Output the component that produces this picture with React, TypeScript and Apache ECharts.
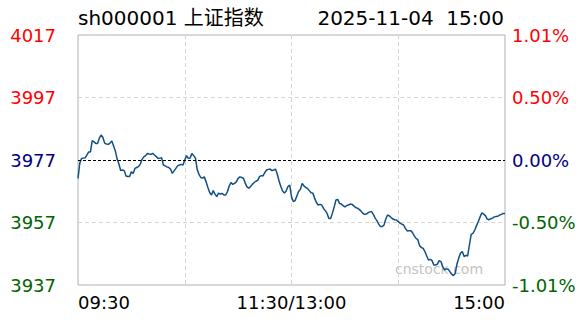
import React, { useEffect, useRef } from "react";
import * as echarts from "echarts";

const TITLE_LEFT = "sh000001 上证指数";
const TITLE_RIGHT = "2025-11-04  15:00";
const WATERMARK = "cnstock.com";
const PREV_CLOSE = 3977;
const Y_MIN = 3937;
const Y_MAX = 4017;
const Y_STEP = 20;
const X_LABELS: Record<number, string> = { 0: "09:30", 120: "11:30/13:00", 240: "15:00" };

const morningTimes: string[] = [];
for (let m = 9 * 60 + 30; m <= 11 * 60 + 30; m++) {
  morningTimes.push(`${String(Math.floor(m / 60)).padStart(2, "0")}:${String(m % 60).padStart(2, "0")}`);
}
const afternoonTimes: string[] = [];
for (let m = 13 * 60 + 1; m <= 15 * 60; m++) {
  afternoonTimes.push(`${String(Math.floor(m / 60)).padStart(2, "0")}:${String(m % 60).padStart(2, "0")}`);
}
const times = [...morningTimes, ...afternoonTimes];

const prices = [
  3971.1, 3976.0, 3977.5, 3977.6, 3977.7, 3978.6, 3979.6, 3979.6, 3983.2, 3982.8,
  3982.3, 3982.3, 3984.0, 3985.0, 3984.2, 3982.4, 3982.1, 3982.0, 3982.4, 3983.1,
  3981.5, 3979.9, 3977.3, 3975.7, 3973.6, 3973.8, 3973.6, 3971.9, 3971.7, 3971.7,
  3973.2, 3972.7, 3974.3, 3974.6, 3974.9, 3975.7, 3977.2, 3978.0, 3978.4, 3979.1,
  3978.9, 3978.8, 3979.1, 3978.6, 3978.1, 3977.5, 3977.6, 3977.7, 3975.4, 3975.1,
  3974.8, 3974.6, 3974.1, 3972.7, 3973.5, 3974.3, 3975.1, 3975.4, 3975.6, 3975.4,
  3977.0, 3978.4, 3977.5, 3977.6, 3979.1, 3978.4, 3977.6, 3974.0, 3972.4, 3971.4,
  3971.2, 3971.6, 3970.0, 3968.2, 3966.6, 3965.8, 3967.2, 3966.1, 3965.3, 3966.4,
  3966.1, 3966.3, 3965.8, 3965.8, 3966.9, 3968.7, 3969.8, 3969.2, 3969.5, 3970.0,
  3971.1, 3971.6, 3971.4, 3971.1, 3969.6, 3968.4, 3968.0, 3968.5, 3969.2, 3969.8,
  3970.2, 3970.5, 3971.7, 3972.0, 3971.9, 3973.0, 3973.8, 3974.0, 3974.1, 3973.6,
  3973.8, 3974.1, 3972.5, 3970.3, 3968.5, 3967.1, 3966.4, 3967.1, 3968.5, 3969.0,
  3965.2, 3963.7, 3964.0, 3965.5, 3966.9, 3967.6, 3969.5, 3968.7, 3968.2, 3967.9,
  3967.2, 3966.5, 3966.4, 3964.8, 3963.4, 3962.6, 3962.8, 3962.6, 3961.5, 3960.8,
  3959.9, 3958.3, 3958.3, 3960.0, 3962.0, 3964.2, 3964.4, 3963.1, 3962.9, 3962.4,
  3962.0, 3962.4, 3962.6, 3962.9, 3962.8, 3962.3, 3961.8, 3961.6, 3961.2, 3960.7,
  3960.0, 3959.6, 3959.7, 3960.1, 3960.4, 3960.5, 3959.6, 3958.4, 3957.6, 3956.5,
  3955.7, 3955.7, 3956.2, 3958.1, 3959.4, 3959.1, 3958.6, 3958.1, 3957.9, 3957.8,
  3957.3, 3956.8, 3956.5, 3956.2, 3955.1, 3954.3, 3954.4, 3954.4, 3953.8, 3952.7,
  3951.9, 3951.5, 3949.6, 3949.0, 3948.7, 3947.7, 3946.3, 3945.0, 3945.2, 3944.8,
  3943.4, 3943.4, 3943.7, 3944.8, 3944.5, 3942.8, 3941.9, 3942.1, 3942.1, 3941.3,
  3940.5, 3940.0, 3940.7, 3943.7, 3945.6, 3947.2, 3947.7, 3946.1, 3946.5, 3946.3,
  3949.8, 3953.2, 3953.5, 3954.6, 3956.0, 3957.3, 3958.8, 3960.1, 3959.7, 3959.2,
  3958.1, 3957.9, 3958.2, 3958.4, 3958.8, 3958.9, 3959.0, 3959.4, 3959.6, 3959.9,
  3959.9,
];

const FONT = '"DejaVu Sans", "Noto Sans CJK SC", sans-serif';
const UP = "#ff0000";
const FLAT = "#000080";
const DOWN = "#006400";

function labelColor(v: number): string {
  const val = Number(v);
  if (val > PREV_CLOSE + 0.01) return UP;
  if (val < PREV_CLOSE - 0.01) return DOWN;
  return FLAT;
}

export default function App() {
  const ref = useRef<HTMLDivElement>(null);
  useEffect(() => {
    if (!ref.current) return;
    const chart = echarts.init(ref.current, undefined, { renderer: "svg" });
    chart.setOption({
      animation: false,
      backgroundColor: "#ffffff",
      textStyle: { fontFamily: FONT },
      grid: {
        left: 78,
        top: 35,
        width: 427,
        height: 250,
        show: true,
        borderColor: "#b0b0b0",
        borderWidth: 1,
        containLabel: false,
      },
      graphic: [
        {
          type: "text",
          left: 78,
          top: 8,
          style: { text: TITLE_LEFT, font: `20px ${FONT}`, fill: "#000" },
        },
        {
          type: "text",
          right: 84,
          top: 8,
          style: { text: TITLE_RIGHT, font: `20px ${FONT}`, fill: "#000" },
        },
        {
          type: "text",
          left: 395,
          top: 262,
          z: -1,
          style: { text: WATERMARK, font: `14px ${FONT}`, fill: "#c4c4c4" },
        },
      ],
      xAxis: {
        type: "category",
        data: times,
        boundaryGap: false,
        axisLine: { show: false },
        axisTick: { show: false },
        axisLabel: {
          interval: (i: number) => X_LABELS[i] !== undefined,
          formatter: (_v: string, i: number) => X_LABELS[i] ?? "",
          fontSize: 18,
          fontFamily: FONT,
          color: "#000",
          margin: 8,
          alignMinLabel: "left",
          alignMaxLabel: "right",
        },
        splitLine: {
          show: true,
          interval: (i: number) => i % 60 === 0 && i !== 0 && i !== 240,
          lineStyle: { color: "#d4d4d4", type: [4, 3], width: 1 },
        },
      },
      yAxis: [
        {
          type: "value",
          position: "left",
          min: Y_MIN,
          max: Y_MAX,
          interval: Y_STEP,
          axisLine: { show: false },
          axisTick: { show: false },
          axisLabel: {
            fontSize: 18,
            fontFamily: FONT,
            margin: 22,
            color: (v: any) => labelColor(v),
            formatter: (v: number) => String(Math.round(v)),
          },
          splitLine: {
            show: true,
            lineStyle: {
              color: ["rgba(0,0,0,0)", "#d4d4d4", "rgba(0,0,0,0)", "#d4d4d4", "rgba(0,0,0,0)"],
              type: [4, 3],
              width: 1,
            },
          },
        },
        {
          type: "value",
          position: "right",
          min: Y_MIN,
          max: Y_MAX,
          interval: Y_STEP,
          axisLine: { show: false },
          axisTick: { show: false },
          splitLine: { show: false },
          axisLabel: {
            fontSize: 18,
            fontFamily: FONT,
            margin: 7,
            color: (v: any) => labelColor(v),
            formatter: (v: number) => (((v - PREV_CLOSE) / PREV_CLOSE) * 100).toFixed(2) + "%",
          },
        },
      ],
      series: [
        {
          type: "line",
          data: prices,
          showSymbol: false,
          symbol: "none",
          lineStyle: { color: "#114f84", width: 1.5 },
          z: 3,
          markLine: {
            silent: true,
            symbol: "none",
            label: { show: false },
            lineStyle: { color: "#000", type: [3, 2], width: 1 },
            data: [{ yAxis: PREV_CLOSE }],
          },
        },
      ],
    });
    return () => chart.dispose();
  }, []);
  return (
    <div
      ref={ref}
      style={{ position: "fixed", left: 0, top: 0, width: 588, height: 324, background: "#fff" }}
    />
  );
}
